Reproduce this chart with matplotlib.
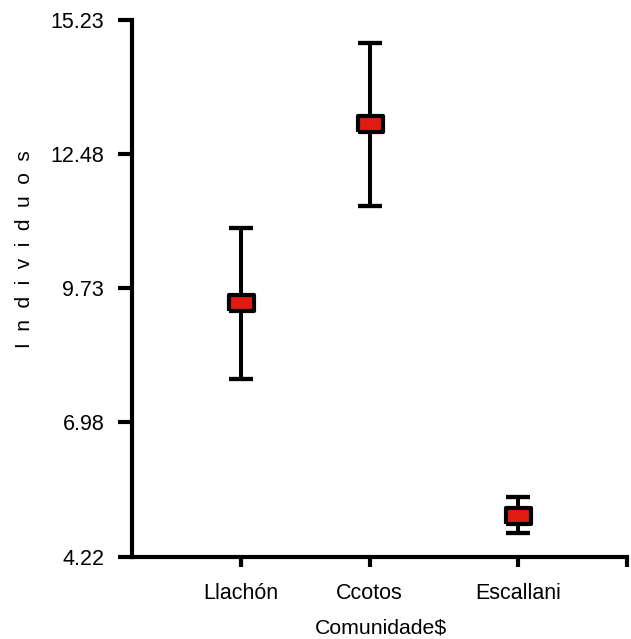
import matplotlib.pyplot as plt
import matplotlib.ticker as mticker

plt.rcParams['font.family'] = ['Liberation Sans', 'DejaVu Sans']

# data
comunidades = ['Llachón', 'Ccotos', 'Escallani']
medias = [9.42, 13.09, 5.07]
inferior = [7.86, 11.41, 4.71]
superior = [10.97, 14.76, 5.45]
y_ticks = [4.22, 6.98, 9.73, 12.48, 15.23]

# horizontal placement of each group along the axis (layout only)
x_pos = [0.22, 0.48, 0.78]

err_low = [m - lo for m, lo in zip(medias, inferior)]
err_high = [hi - m for m, hi in zip(medias, superior)]

fig = plt.figure(figsize=(6.31, 6.39), dpi=100)
ax = fig.add_axes([132 / 631, 1 - 557 / 639, 495 / 631, 537 / 639])

# wide rectangle marker
rect = [(-1, -0.62), (1, -0.62), (1, 0.62), (-1, 0.62), (-1, -0.62)]
ax.errorbar(x_pos, medias, yerr=[err_low, err_high], fmt='none',
            ecolor='black', elinewidth=2.9, capsize=8.3, capthick=3.1, zorder=2)
ax.plot(x_pos, medias, linestyle='none', marker=rect, markersize=18,
        markerfacecolor='#e01c12', markeredgecolor='black',
        markeredgewidth=3.0, zorder=3)

ax.set_xlim(0, 1)
ax.set_ylim(y_ticks[0], y_ticks[-1])
ax.set_yticks(y_ticks)
ax.yaxis.set_major_formatter(mticker.FormatStrFormatter('%.2f'))
ax.set_xticks(x_pos + [1.0])
ax.set_xticklabels(comunidades + [''])

for side in ['top', 'right']:
    ax.spines[side].set_visible(False)
for side in ['left', 'bottom']:
    ax.spines[side].set_linewidth(3.0)

ax.tick_params(axis='y', direction='out', length=10, width=3.0, labelsize=15.5, pad=10)
ax.tick_params(axis='x', direction='out', length=7, width=3.0, labelsize=15.5, pad=12)

fig.text(381 / 631, 1 - 628 / 639, 'Comunidade$', ha='center', va='center', fontsize=15.3)
fig.text(25 / 631, 1 - 249 / 639, 'I  n  d  i  v  i  d  u  o  s', rotation=90,
         ha='center', va='center', fontsize=15)

fig.savefig('out.png', dpi=100)
